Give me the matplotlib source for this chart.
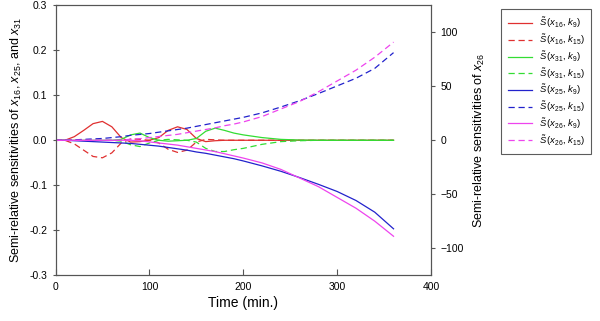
import matplotlib.pyplot as plt

plt.rcParams['font.family'] = ['Liberation Sans', 'DejaVu Sans']
plt.rcParams['mathtext.fontset'] = 'custom'
plt.rcParams['mathtext.rm'] = 'Liberation Sans'
plt.rcParams['mathtext.it'] = 'Liberation Sans:italic'

# time grid (min.)
t = [0, 10, 20, 30, 40, 50, 60, 70, 80, 90, 100, 110, 120, 130, 140, 150, 160,
     170, 180, 190, 200, 220, 240, 260, 280, 300, 320, 340, 360]

# x16 (left axis)
x16_k9 = [0, 0, 0.008, 0.022, 0.037, 0.042, 0.030, 0.006, -0.004, -0.003, 0, 0.006,
          0.022, 0.030, 0.024, 0.004, -0.003, -0.001, 0, 0, 0, 0, 0, 0, 0, 0, 0, 0, 0]
x16_k15 = [0, 0, -0.008, -0.022, -0.036, -0.039, -0.028, -0.006, 0.003, 0.002, 0, -0.006,
           -0.020, -0.027, -0.022, -0.004, 0.002, 0.001, 0, 0, 0, 0, 0, 0, 0, 0, 0, 0, 0]

# x31 (left axis)
x31_k9 = [0, 0, 0, 0, 0, 0, 0, 0.002, 0.012, 0.016, 0.006, 0.0, -0.002, -0.001, 0,
          0.004, 0.020, 0.027, 0.022, 0.016, 0.012, 0.006, 0.002, 0.0005, 0, 0, 0, 0, 0]
x31_k15 = [0, 0, 0, 0, 0, 0, 0, -0.002, -0.010, -0.014, -0.006, 0, 0.002, 0.001, 0,
           -0.004, -0.018, -0.025, -0.025, -0.021, -0.018, -0.009, -0.003, -0.001, 0, 0, 0, 0, 0]

# x25 (left axis)
x25_k9 = [0, 0, -0.001, -0.002, -0.003, -0.004, -0.005, -0.006, -0.007, -0.009, -0.011,
          -0.013, -0.016, -0.019, -0.022, -0.026, -0.029, -0.033, -0.037, -0.041, -0.046,
          -0.057, -0.069, -0.083, -0.098, -0.114, -0.134, -0.160, -0.197]
x25_k15 = [0, 0, 0.001, 0.002, 0.003, 0.004, 0.006, 0.008, 0.011, 0.013, 0.015, 0.018,
           0.021, 0.024, 0.027, 0.031, 0.035, 0.039, 0.043, 0.047, 0.051, 0.061, 0.074,
           0.088, 0.104, 0.121, 0.138, 0.160, 0.195]

# x26 (right axis)
x26_k9 = [0, 0, 0, 0, 0, 0, 0, 0, 0, -0.5, -1.5, -2.5, -3.5, -4.5, -6, -7.5, -9, -10.5,
          -12.5, -14.5, -16.5, -21, -27, -35, -43, -53, -63, -75, -89]
x26_k15 = [0, 0, 0, 0, 0, 0, 0, 0, 1, 1.5, 2.5, 3.5, 4.5, 5.5, 7, 8.5, 10, 11.5, 13.5,
           15, 17, 22, 29, 36, 45, 55, 65, 77, 91]

fig = plt.figure(figsize=(6, 3.21), dpi=100)
ax = fig.add_axes([0.0925, 0.143, 0.626, 0.84])
ax2 = ax.twinx()

lw = 0.9
dash = (0, (5, 3))
l1, = ax.plot(t, x16_k9, color='#e03030', lw=lw)
l2, = ax.plot(t, x16_k15, color='#e03030', lw=lw, ls=dash)
l3, = ax.plot(t, x31_k9, color='#33dd33', lw=lw)
l4, = ax.plot(t, x31_k15, color='#33dd33', lw=lw, ls=dash)
l5, = ax.plot(t, x25_k9, color='#2222cc', lw=lw)
l6, = ax.plot(t, x25_k15, color='#2222cc', lw=lw, ls=dash)
l7, = ax2.plot(t, x26_k9, color='#ee44ee', lw=lw)
l8, = ax2.plot(t, x26_k15, color='#ee44ee', lw=lw, ls=dash)

ax.set_xlim(0, 400)
ax.set_ylim(-0.3, 0.3)
ax2.set_ylim(-125, 125)
ax.set_xticks([0, 100, 200, 300, 400])
ax.set_yticks([-0.3, -0.2, -0.1, 0.0, 0.1, 0.2, 0.3])
ax.set_yticklabels(['-0.3', '-0.2', '-0.1', '0.0', '0.1', '0.2', '0.3'])
ax2.set_yticks([-100, -50, 0, 50, 100])

for a in (ax, ax2):
    for s in a.spines.values():
        s.set_color('#555555')
        s.set_linewidth(0.8)
ax.tick_params(axis='y', direction='inout', length=5, labelsize=7.5, color='#555555')
ax.tick_params(axis='x', direction='in', length=4, labelsize=7.5, color='#555555', pad=5)
ax2.tick_params(axis='y', direction='out', length=3, labelsize=7.5, color='#555555')

ax.set_xlabel('Time (min.)', fontsize=10, labelpad=3)
ax.set_ylabel('Semi-relative sensitivities of $x_{16}$, $x_{25}$, and $x_{31}$',
              fontsize=9, labelpad=4)
ax2.set_ylabel('Semi-relative sensitivities of $x_{26}$', fontsize=9, labelpad=6)

labels = [r'$\tilde{S}\,(x_{16},\,k_9)$', r'$\tilde{S}\,(x_{16},\,k_{15})$',
          r'$\tilde{S}\,(x_{31},\,k_9)$', r'$\tilde{S}\,(x_{31},\,k_{15})$',
          r'$\tilde{S}\,(x_{25},\,k_9)$', r'$\tilde{S}\,(x_{25},\,k_{15})$',
          r'$\tilde{S}\,(x_{26},\,k_9)$', r'$\tilde{S}\,(x_{26},\,k_{15})$']
leg = fig.legend([l1, l2, l3, l4, l5, l6, l7, l8], labels,
                 loc='upper left', bbox_to_anchor=(0.835, 0.972),
                 fontsize=6.8, frameon=True, fancybox=False, handlelength=2.6,
                 labelspacing=0.2, borderpad=0.7, handletextpad=0.7,
                 borderaxespad=0)
leg.get_frame().set_edgecolor('#333333')
leg.get_frame().set_linewidth(0.8)

fig.savefig('out.png', dpi=100)
